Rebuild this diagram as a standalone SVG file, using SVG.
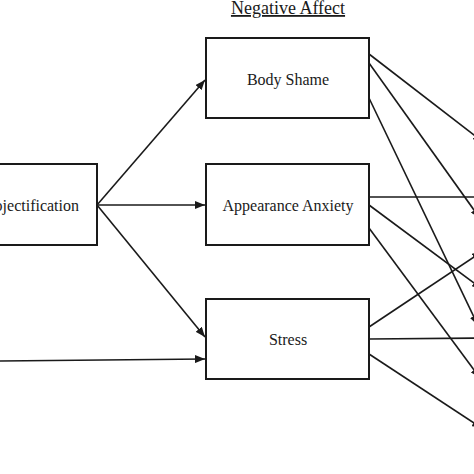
<svg xmlns="http://www.w3.org/2000/svg" width="474" height="474" viewBox="0 0 474 474">
<style>
.box{fill:#fff;stroke:#1a1a1a;stroke-width:2}
.lbl{font-family:"Liberation Serif","Times New Roman",serif;font-size:16px;fill:#1a1a1a;text-anchor:middle}
.ln{stroke:#1a1a1a;stroke-width:1.6;fill:none}
</style>
<defs>
<marker id="ah" markerWidth="10" markerHeight="8" refX="10" refY="4" orient="auto" markerUnits="userSpaceOnUse">
<path d="M0,0 L10,4 L0,8 Z" fill="#1a1a1a"/>
</marker>
</defs>
<rect width="474" height="474" fill="#fff"/>
<g id="title">
<text x="288" y="14" class="lbl" style="font-size:18px" text-decoration="underline">Negative Affect</text>
</g>
<g id="connectors">
<line class="ln" x1="97" y1="205" x2="205" y2="80" marker-end="url(#ah)"/>
<line class="ln" x1="97" y1="205" x2="205" y2="205" marker-end="url(#ah)"/>
<line class="ln" x1="97" y1="205" x2="205" y2="337" marker-end="url(#ah)"/>
<line class="ln" x1="0" y1="361" x2="205" y2="359" marker-end="url(#ah)"/>
<line class="ln" x1="369" y1="54" x2="483" y2="142" marker-end="url(#ah)"/>
<line class="ln" x1="369" y1="63" x2="480" y2="218.4" marker-end="url(#ah)"/>
<line class="ln" x1="369" y1="98" x2="478" y2="325.4" marker-end="url(#ah)"/>
<line class="ln" x1="369" y1="197" x2="484" y2="197" marker-end="url(#ah)"/>
<line class="ln" x1="369" y1="205" x2="482" y2="289" marker-end="url(#ah)"/>
<line class="ln" x1="369" y1="228" x2="480" y2="378" marker-end="url(#ah)"/>
<line class="ln" x1="369" y1="327" x2="482" y2="251.6" marker-end="url(#ah)"/>
<line class="ln" x1="369" y1="339" x2="484" y2="338" marker-end="url(#ah)"/>
<line class="ln" x1="369" y1="354" x2="482" y2="428.2" marker-end="url(#ah)"/>
</g>
<g id="objectification">
<rect class="box" x="-66" y="164" width="163" height="81"/>
<text x="79" y="211" class="lbl" style="text-anchor:end">Objectification</text>
</g>
<g id="body-shame">
<rect class="box" x="206" y="38" width="163" height="80"/>
<text x="288" y="85" class="lbl">Body Shame</text>
</g>
<g id="appearance-anxiety">
<rect class="box" x="206" y="164" width="163" height="81"/>
<text x="288" y="211" class="lbl">Appearance Anxiety</text>
</g>
<g id="stress">
<rect class="box" x="206" y="299" width="163" height="80"/>
<text x="288" y="345" class="lbl">Stress</text>
</g>
</svg>
